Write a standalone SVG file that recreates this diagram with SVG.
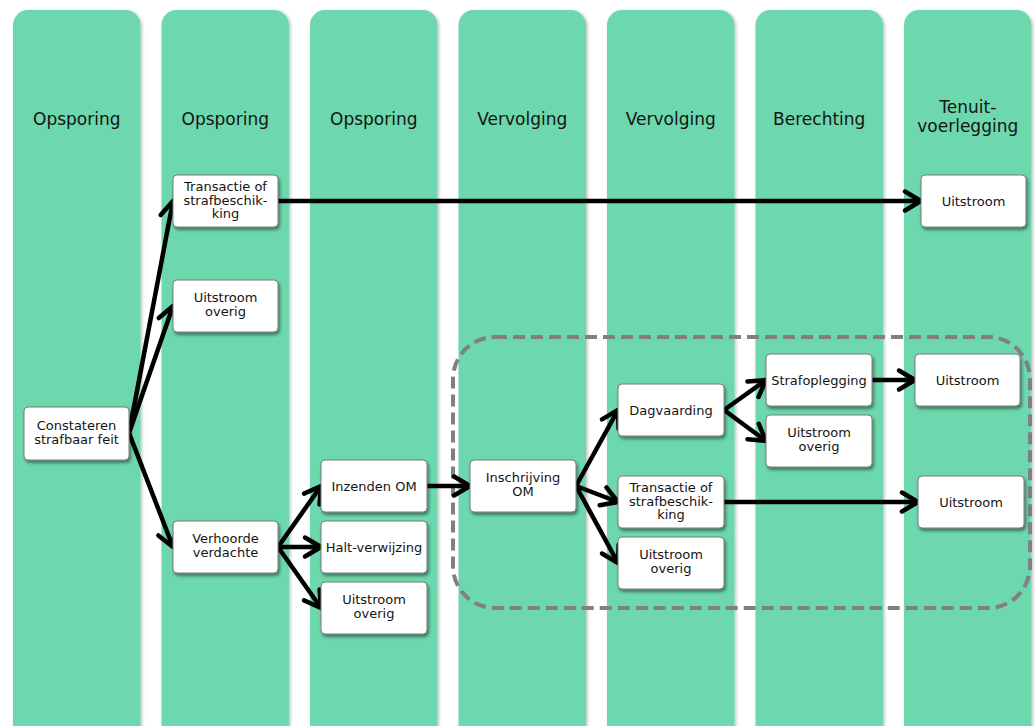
<svg xmlns="http://www.w3.org/2000/svg" width="1035" height="726" viewBox="0 0 1035 726">
<defs>
<style>
.lane{fill:#6dd8ad;filter:url(#ls)}
.title{font-family:"DejaVu Sans","Liberation Sans",sans-serif;font-size:17px;fill:#141414;text-anchor:middle}
.box{fill:#fff;stroke:#7a7a7a;stroke-width:1;filter:url(#bs)}
.lbl{font-family:"DejaVu Sans","Liberation Sans",sans-serif;font-size:13px;fill:#141414;text-anchor:middle}
.con{fill:none;stroke:#000;stroke-width:4.5;marker-end:url(#ah)}
.grp{fill:none;stroke:#808080;stroke-width:4;stroke-dasharray:12 6}
</style>
<filter id="bs" x="-20%" y="-20%" width="140%" height="150%">
<feDropShadow dx="1.5" dy="2.5" stdDeviation="1.5" flood-color="#000" flood-opacity="0.45"/>
</filter>
<filter id="ls" x="-10%" y="-5%" width="120%" height="110%">
<feDropShadow dx="1.5" dy="1" stdDeviation="1.5" flood-color="#000" flood-opacity="0.25"/>
</filter>
<marker id="ah" markerUnits="userSpaceOnUse" markerWidth="24" markerHeight="26" viewBox="-3 -3 24 26" refX="16" refY="9.5" orient="auto" overflow="visible">
<path d="M0,0 L16,9.5 L0,19" fill="none" stroke="#000" stroke-width="4.5" stroke-linejoin="round" stroke-linecap="round"/>
</marker>
</defs>

<g id="lanes">
<rect class="lane" x="13" y="10" width="127.5" height="730" rx="15"/>
<rect class="lane" x="161.5" y="10" width="127.5" height="730" rx="15"/>
<rect class="lane" x="310" y="10" width="127.5" height="730" rx="15"/>
<rect class="lane" x="458.5" y="10" width="127.5" height="730" rx="15"/>
<rect class="lane" x="607" y="10" width="127.5" height="730" rx="15"/>
<rect class="lane" x="755.5" y="10" width="127.5" height="730" rx="15"/>
<rect class="lane" x="904" y="10" width="127.5" height="730" rx="15"/>
<text class="title" x="76.75" y="125">Opsporing</text>
<text class="title" x="225.25" y="125">Opsporing</text>
<text class="title" x="373.75" y="125">Opsporing</text>
<text class="title" x="522.25" y="125">Vervolging</text>
<text class="title" x="670.75" y="125">Vervolging</text>
<text class="title" x="819.25" y="125">Berechting</text>
<text class="title" x="967.75" y="113">Tenuit-</text>
<text class="title" x="967.75" y="131.5">voerlegging</text>
</g>

<g id="group-om">
<rect class="grp" x="453" y="337" width="577" height="271" rx="42"/>
</g>

<g id="connectors">
<path class="con" d="M129,433 L173,201"/>
<path class="con" d="M129,433 L173,306"/>
<path class="con" d="M129,433 L173,547"/>
<path class="con" d="M278,201 L921,201"/>
<path class="con" d="M278,547 L321,486"/>
<path class="con" d="M278,547 L321,547"/>
<path class="con" d="M278,547 L321,608"/>
<path class="con" d="M427,486 L470,486"/>
<path class="con" d="M576,486 L618,410"/>
<path class="con" d="M576,486 L618,502"/>
<path class="con" d="M576,486 L618,563"/>
<path class="con" d="M724,410 L766,380"/>
<path class="con" d="M724,410 L766,441"/>
<path class="con" d="M872,380 L915,380"/>
<path class="con" d="M724,502 L918,502"/>
</g>

<g id="n-constateren">
<rect class="box" x="24" y="407" width="105" height="53" rx="4"/>
<text class="lbl" x="76.5" y="429.5">Constateren</text>
<text class="lbl" x="76.5" y="444">strafbaar feit</text>
</g>
<g id="n-transactie1">
<rect class="box" x="173" y="175" width="105" height="52" rx="4"/>
<text class="lbl" x="225.5" y="191">Transactie of</text>
<text class="lbl" x="225.5" y="204.5">strafbeschik-</text>
<text class="lbl" x="225.5" y="218">king</text>
</g>
<g id="n-uitstroom-overig1">
<rect class="box" x="173" y="280" width="105" height="52" rx="4"/>
<text class="lbl" x="225.5" y="302">Uitstroom</text>
<text class="lbl" x="225.5" y="316">overig</text>
</g>
<g id="n-verhoorde">
<rect class="box" x="173" y="521" width="105" height="52" rx="4"/>
<text class="lbl" x="225.5" y="543">Verhoorde</text>
<text class="lbl" x="225.5" y="557">verdachte</text>
</g>
<g id="n-inzenden">
<rect class="box" x="321" y="460" width="106" height="52" rx="4"/>
<text class="lbl" x="374" y="490.5">Inzenden OM</text>
</g>
<g id="n-halt">
<rect class="box" x="321" y="521" width="106" height="52" rx="4"/>
<text class="lbl" x="374" y="551.5">Halt-verwijzing</text>
</g>
<g id="n-uitstroom-overig2">
<rect class="box" x="321" y="582" width="106" height="52" rx="4"/>
<text class="lbl" x="374" y="604">Uitstroom</text>
<text class="lbl" x="374" y="618">overig</text>
</g>
<g id="n-inschrijving">
<rect class="box" x="470" y="460" width="106" height="52" rx="4"/>
<text class="lbl" x="523" y="482">Inschrijving</text>
<text class="lbl" x="523" y="496">OM</text>
</g>
<g id="n-dagvaarding">
<rect class="box" x="618" y="384" width="106" height="52" rx="4"/>
<text class="lbl" x="671" y="414.5">Dagvaarding</text>
</g>
<g id="n-transactie2">
<rect class="box" x="618" y="476" width="106" height="52" rx="4"/>
<text class="lbl" x="671" y="492">Transactie of</text>
<text class="lbl" x="671" y="505.5">strafbeschik-</text>
<text class="lbl" x="671" y="519">king</text>
</g>
<g id="n-uitstroom-overig3">
<rect class="box" x="618" y="537" width="106" height="52" rx="4"/>
<text class="lbl" x="671" y="559">Uitstroom</text>
<text class="lbl" x="671" y="573">overig</text>
</g>
<g id="n-strafoplegging">
<rect class="box" x="766" y="354" width="106" height="52" rx="4"/>
<text class="lbl" x="819" y="384.5">Strafoplegging</text>
</g>
<g id="n-uitstroom-overig4">
<rect class="box" x="766" y="415" width="106" height="52" rx="4"/>
<text class="lbl" x="819" y="437">Uitstroom</text>
<text class="lbl" x="819" y="451">overig</text>
</g>
<g id="n-uitstroom1">
<rect class="box" x="921" y="175" width="105" height="52" rx="4"/>
<text class="lbl" x="973.5" y="205.5">Uitstroom</text>
</g>
<g id="n-uitstroom2">
<rect class="box" x="915" y="354" width="105" height="52" rx="4"/>
<text class="lbl" x="967.5" y="384.5">Uitstroom</text>
</g>
<g id="n-uitstroom3">
<rect class="box" x="918" y="476" width="106" height="52" rx="4"/>
<text class="lbl" x="971" y="506.5">Uitstroom</text>
</g>
</svg>
